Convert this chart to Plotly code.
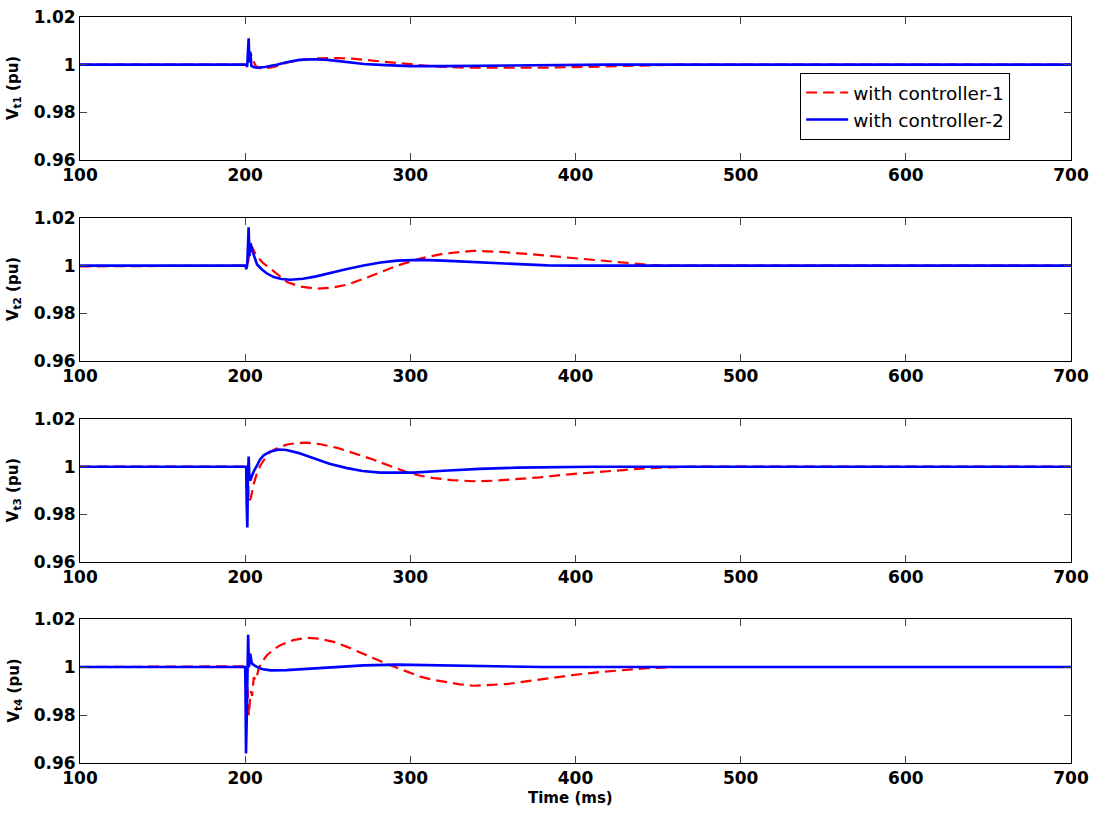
import plotly.graph_objects as go
from plotly.subplots import make_subplots

# Tick labels
x_ticks = [100, 200, 300, 400, 500, 600, 700]
y_ticks = [0.96, 0.98, 1.0, 1.02]
y_tick_text = ["0.96", "0.98", "1", "1.02"]

series_names = ["with controller-1", "with controller-2"]
panel_labels = ["V<sub>t1</sub> (pu)", "V<sub>t2</sub> (pu)", "V<sub>t3</sub> (pu)", "V<sub>t4</sub> (pu)"]

# Panel 1 (Vt1)
t1_c1 = [100, 201.5, 202.5, 203.5, 204.2, 205, 206.2, 207, 209, 212, 218, 225, 235, 245, 255, 265, 275,
         287, 300, 315, 335, 360, 385, 410, 430, 460, 700]
v1_c1 = [1.0, 1.0, 1.0035, 1.0045, 1.0030, 1.0015, 0.9997, 0.9992, 0.9985, 0.9984, 0.9992, 1.0008, 1.0021,
         1.0027, 1.0028, 1.0025, 1.0018, 1.0009, 1.0002, 0.9992, 0.9987, 0.9986, 0.9988, 0.9991, 0.9995, 1.0, 1.0]
t1_c2 = [100, 200.8, 201.2, 201.6, 202.1, 202.6, 203.1, 203.8, 205, 207, 212, 218, 225, 233, 242, 250, 261.7,
         272, 285, 300, 320, 342, 380, 420, 700]
v1_c2 = [1.0, 1.0, 0.9990, 1.0060, 1.0111, 1.0010, 1.0055, 0.9995, 0.9990, 0.9987, 0.9990, 0.9998, 1.0010,
         1.0020, 1.0023, 1.0020, 1.0010, 1.0003, 0.9998, 0.9994, 0.9994, 0.9995, 0.9998, 1.0, 1.0]

# Panel 2 (Vt2)
t2_c1 = [100, 145, 146, 201.5, 202.5, 203.5, 204.2, 205.5, 206.5, 208.2, 211, 215.4, 220, 225.4, 233, 243.5,
         252, 261.7, 271, 281.8, 293, 306, 320, 338, 355, 372.6, 388, 403, 418, 433, 445, 455, 700]
v2_c1 = [0.9997, 0.9997, 1.0, 1.0, 1.0050, 1.0085, 1.0079, 1.0060, 1.0045, 1.0030, 1.0010, 0.9987, 0.9960,
         0.9931, 0.9913, 0.9903, 0.9907, 0.9920, 0.9943, 0.9973, 1.0002, 1.0030, 1.0050, 1.0062, 1.0058,
         1.0048, 1.0038, 1.0030, 1.0018, 1.0008, 1.0003, 1.0, 1.0]
t2_c2 = [100, 200.3, 200.6, 201.2, 201.7, 202.1, 202.6, 203.2, 204.2, 205.5, 207.2, 210, 213, 217.3, 222,
         227.4, 235, 243, 251.6, 261, 271.7, 282, 292, 306, 320, 342, 362, 383, 400, 700]
v2_c2 = [1.0, 1.0, 0.9985, 1.0, 1.0085, 1.0161, 1.0040, 1.0095, 1.0065, 1.0035, 1.0005, 0.9985, 0.9968,
         0.9952, 0.9944, 0.9941, 0.9945, 0.9955, 0.9970, 0.9985, 1.0001, 1.0013, 1.0021, 1.0024, 1.0021,
         1.0013, 1.0006, 1.0001, 1.0, 1.0]

# Panel 3 (Vt3)
t3_c1 = [100, 201.5, 202.2, 203.5, 205.2, 207, 209.2, 212, 215.3, 220, 225.4, 231, 237.5, 245, 255.7, 265,
         275.8, 287, 298, 306, 314.1, 325, 338.3, 350, 362.5, 378, 392.8, 408, 423, 438, 453.3, 470, 700]
v3_c1 = [1.0, 1.0, 0.9853, 0.9870, 0.9928, 0.9970, 1.0005, 1.0035, 1.0062, 1.0080, 1.0093, 1.0099, 1.0101,
         1.0095, 1.0079, 1.0058, 1.0034, 1.0005, 0.9977, 0.9962, 0.9952, 0.9944, 0.9939, 0.9941, 0.9946,
         0.9955, 0.9966, 0.9975, 0.9984, 0.9991, 0.9996, 1.0, 1.0]
t3_c2 = [100, 200.6, 200.9, 201.3, 201.7, 202.1, 202.6, 203.1, 204, 205.5, 207.2, 209, 211.2, 215, 220.3,
         225, 232, 241.5, 251, 261.7, 271, 281.8, 292, 302, 320, 342, 365, 390, 410, 700]
v3_c2 = [1.0, 1.0, 0.9850, 0.9745, 0.9960, 1.0043, 0.9950, 0.9942, 0.9960, 0.9985, 1.0005, 1.0030, 1.0048,
         1.0063, 1.0072, 1.0070, 1.0058, 1.0034, 1.0012, 0.9994, 0.9982, 0.9975, 0.9974, 0.9975, 0.9983,
         0.9991, 0.9996, 0.9999, 1.0, 1.0]

# Panel 4 (Vt4)
t4_c1 = [100, 130, 131, 200.5, 201.5, 202.2, 202.8, 203.5, 204.2, 205.2, 206.5, 207.5, 208.2, 210, 213.2,
         217, 221.3, 229, 237.5, 245, 253.6, 262, 271.7, 280, 287.9, 297, 306, 314, 322.2, 330, 338.3, 348,
         358.5, 370, 382.8, 398, 413, 428, 443.3, 460, 555, 556, 580, 581, 700]
v4_c1 = [1.0, 1.0, 1.0003, 1.0003, 0.9900, 0.9798, 0.9850, 0.9900, 0.9880, 0.9957, 0.9945, 0.9975, 0.9993,
         1.0020, 1.0049, 1.0072, 1.0091, 1.0112, 1.0122, 1.0118, 1.0105, 1.0083, 1.0056, 1.0030, 1.0007,
         0.9983, 0.9960, 0.9946, 0.9936, 0.9928, 0.9922, 0.9924, 0.9929, 0.9940, 0.9953, 0.9966, 0.9978,
         0.9987, 0.9995, 1.0, 1.0, 0.9997, 0.9997, 1.0, 1.0]
t4_c2 = [100, 200.0, 200.2, 200.5, 201.0, 201.5, 201.8, 202.3, 203.1, 204, 206, 210, 215.4, 225, 241.6, 255,
         271.9, 292, 312, 332.3, 360, 380, 700]
v4_c2 = [1.0, 1.0, 0.9900, 0.9640, 0.9800, 1.0050, 1.0134, 1.0000, 1.0056, 1.0015, 1.0005, 0.9992, 0.9986,
         0.9987, 0.9993, 0.9999, 1.0007, 1.0010, 1.0008, 1.0004, 1.0001, 1.0, 1.0]

panels = [
    (t1_c1, v1_c1, t1_c2, v1_c2),
    (t2_c1, v2_c1, t2_c2, v2_c2),
    (t3_c1, v3_c1, t3_c2, v3_c2),
    (t4_c1, v4_c1, t4_c2, v4_c2),
]

fig = make_subplots(rows=4, cols=1)

for i, (ta, va, tb, vb) in enumerate(panels):
    row = i + 1
    fig.add_trace(go.Scatter(x=ta, y=va, mode="lines", name=series_names[0],
                             line=dict(color="#ff0000", width=2.2, dash="11px,6px"),
                             showlegend=(i == 0)), row=row, col=1)
    fig.add_trace(go.Scatter(x=tb, y=vb, mode="lines", name=series_names[1],
                             line=dict(color="#0000ff", width=2.6),
                             showlegend=(i == 0)), row=row, col=1)

# domains (plot area 17..763 px high)
domains = [[0.8083, 1.0], [0.5389, 0.7306], [0.2694, 0.4611], [0.0, 0.193]]
tick_font = dict(family="DejaVu Sans", size=17, color="black", weight="bold")

for i in range(4):
    fig.update_xaxes(range=[100, 700], tickvals=x_ticks, ticks="inside", ticklen=7,
                     showline=True, linecolor="black", linewidth=1, mirror="ticks",
                     showgrid=False, zeroline=False, tickfont=tick_font, automargin=False,
                     row=i + 1, col=1)
    fig.update_yaxes(range=[0.96, 1.02], tickvals=y_ticks, ticktext=y_tick_text,
                     ticks="inside", ticklen=7, domain=domains[i],
                     showline=True, linecolor="black", linewidth=1, mirror="ticks",
                     showgrid=False, zeroline=False, tickfont=tick_font, automargin=False,
                     row=i + 1, col=1)
    fig.add_annotation(text=panel_labels[i], xref="paper", yref="paper",
                       x=-0.067, y=(domains[i][0] + domains[i][1]) / 2,
                       textangle=-90, showarrow=False, xanchor="center", yanchor="middle",
                       font=dict(family="DejaVu Sans", size=15, color="black", weight="bold"))

fig.add_annotation(text="Time (ms)", xref="paper", yref="paper", x=0.4947, y=-0.047,
                   showarrow=False, xanchor="center", yanchor="middle",
                   font=dict(family="DejaVu Sans", size=15, color="black", weight="bold"))

fig.update_layout(
    width=1096, height=813,
    margin=dict(l=79.5, r=25, t=17, b=50, autoexpand=False),
    plot_bgcolor="white", paper_bgcolor="white",
    legend=dict(x=0.7267, y=0.925, xanchor="left", yanchor="top", itemwidth=42,
                bgcolor="white", bordercolor="black", borderwidth=1,
                font=dict(family="DejaVu Sans", size=18.5, color="black")),
)

# drop the default page margin so the figure sits at the window's corner
fig.write_html("out.html", config={"displayModeBar": False},
               post_script="document.body.style.margin='0';")
